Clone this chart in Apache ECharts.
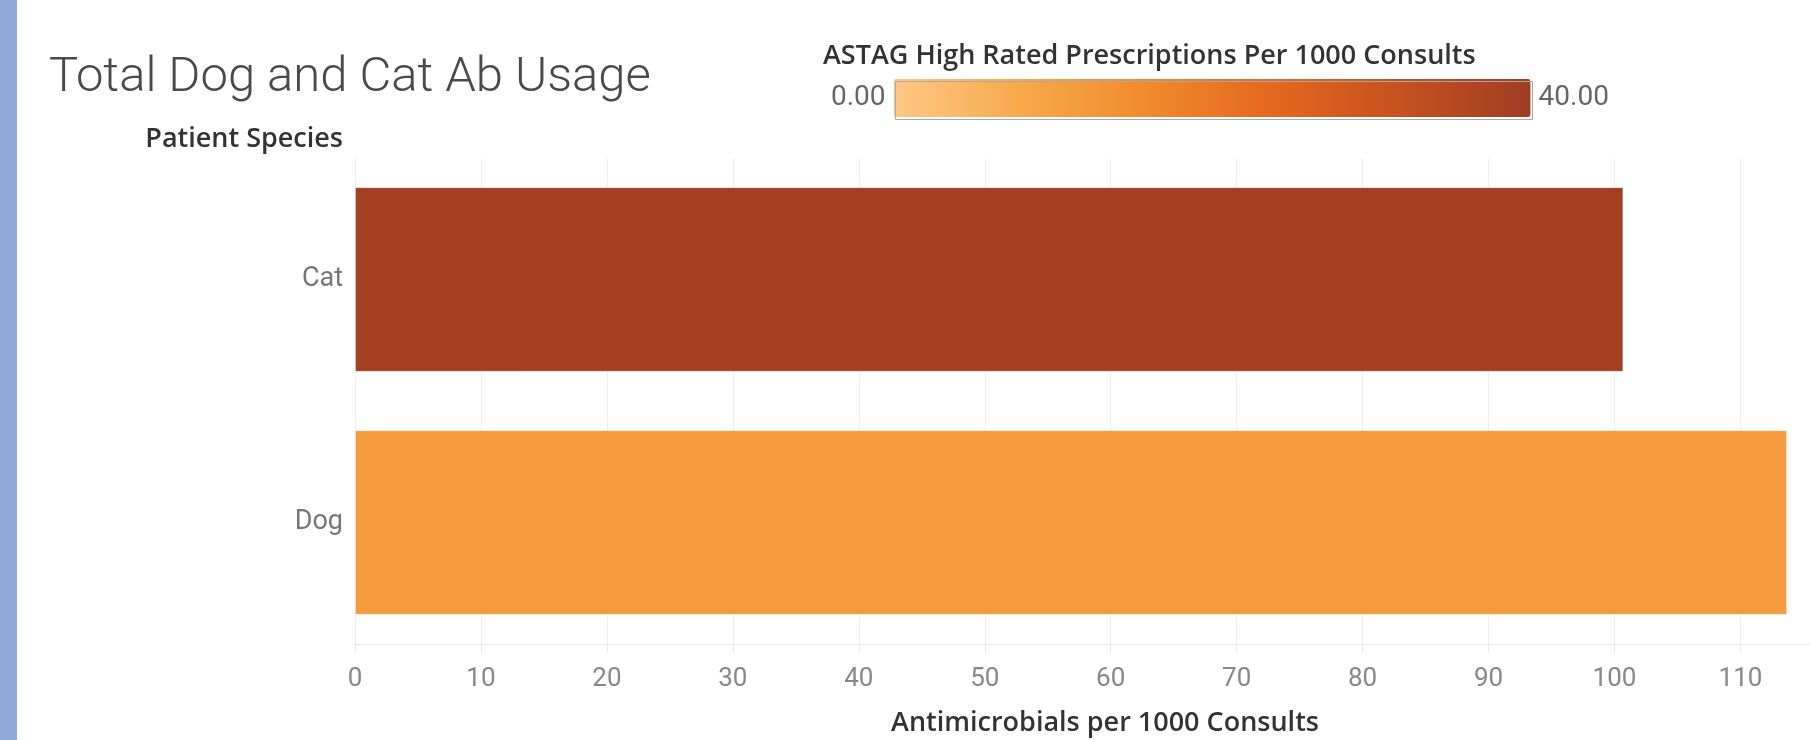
<!DOCTYPE html>
<html>
<head>
<meta charset="utf-8">
<title>Total Dog and Cat Ab Usage</title>
<script src="https://cdn.jsdelivr.net/npm/echarts@6/dist/echarts.min.js"></script>
<style>
  html, body { margin: 0; padding: 0; background: #fff; }
  #chart { width: 1811px; height: 740px; }
</style>
</head>
<body>
<div id="chart"></div>
<script>
// chart values
const species = ['Cat', 'Dog']
const abPer1000 = [100.7, 113.7]          // Antimicrobials per 1000 Consults
const astagHighPer1000 = [38.8, 11.5]     // ASTAG High Rated Prescriptions Per 1000 Consults
const xTicks = [0, 10, 20, 30, 40, 50, 60, 70, 80, 90, 100, 110]
const colorRange = [0, 40]

const chart = echarts.init(document.getElementById('chart'))

const seriesData = species.map((s, i) => [abPer1000[i], s, astagHighPer1000[i]])

const option = {
  animation: false,
  backgroundColor: '#fff',
  textStyle: { fontFamily: 'Roboto' },
  title: [
    {
      text: 'Total Dog and Cat Ab Usage',
      left: 44,
      top: 49,
      textStyle: { fontFamily: 'Roboto', fontWeight: 300, fontSize: 49, color: '#4a4a4a' }
    },
    {
      text: 'ASTAG High Rated Prescriptions Per 1000 Consults',
      left: 818,
      top: 38,
      textStyle: { fontFamily: 'Open Sans', fontWeight: 600, fontSize: 27, color: '#333' }
    }
  ],
  graphic: [
    { type: 'rect', left: 0, top: 0, shape: { width: 17, height: 740 }, style: { fill: '#8eaadb' }, silent: true },
    { type: 'rect', left: 893, top: 79, shape: { width: 637, height: 38 }, style: { fill: 'none', stroke: '#a8a8a8', lineWidth: 1 }, silent: true, z: 100 }
  ],
  visualMap: {
    type: 'continuous',
    orient: 'horizontal',
    min: colorRange[0],
    max: colorRange[1],
    dimension: 2,
    seriesIndex: 0,
    calculable: false,
    hoverLink: false,
    left: 816,
    top: 64,
    itemWidth: 38,
    itemHeight: 637,
    text: [colorRange[1].toFixed(2), colorRange[0].toFixed(2)],
    textGap: 8,
    textStyle: { fontFamily: 'Roboto', fontSize: 28, color: '#666' },
    inRange: {
      color: ['#fec887', '#f7a94b', '#f08a2d', '#e4661f', '#c4511f', '#9e3d22']
    }
  },
  grid: {
    left: 355,
    right: 0,
    top: 158,
    bottom: 96,
    containLabel: false,
    outerBoundsMode: 'none'
  },
  xAxis: {
    type: 'value',
    min: xTicks[0],
    max: 115.6,
    interval: xTicks[1] - xTicks[0],
    name: 'Antimicrobials per 1000 Consults',
    nameLocation: 'middle',
    nameGap: 66,
    nameTextStyle: { fontFamily: 'Open Sans', fontWeight: 600, fontSize: 27, color: '#333', padding: [0, 0, 0, 44] },
    axisLine: { show: true, lineStyle: { color: '#e8e8e8' } },
    axisTick: { show: true, length: 9, lineStyle: { color: '#e8e8e8' } },
    axisLabel: { fontSize: 26, color: '#888', margin: 22, showMaxLabel: false, fontFamily: 'Roboto' },
    splitLine: { show: true, lineStyle: { color: '#efefef' } }
  },
  yAxis: {
    type: 'category',
    data: species,
    inverse: true,
    name: 'Patient Species',
    nameLocation: 'start',
    nameGap: 5,
    nameTextStyle: { fontFamily: 'Open Sans', fontWeight: 600, fontSize: 27, color: '#333', align: 'right', padding: [0, 12, 0, 0] },
    axisLine: { show: true, lineStyle: { color: '#efefef' } },
    axisTick: { show: false },
    axisLabel: { fontSize: 27, color: '#777', margin: 12, fontFamily: 'Roboto' },
    splitLine: { show: false }
  },
  series: [
    {
      type: 'bar',
      data: seriesData,
      encode: { x: 0, y: 1 },
      barCategoryGap: '24%',
      itemStyle: { borderColor: 'rgba(255,255,255,0.35)', borderWidth: 1 }
    }
  ]
}

chart.setOption(option)
</script>
</body>
</html>
